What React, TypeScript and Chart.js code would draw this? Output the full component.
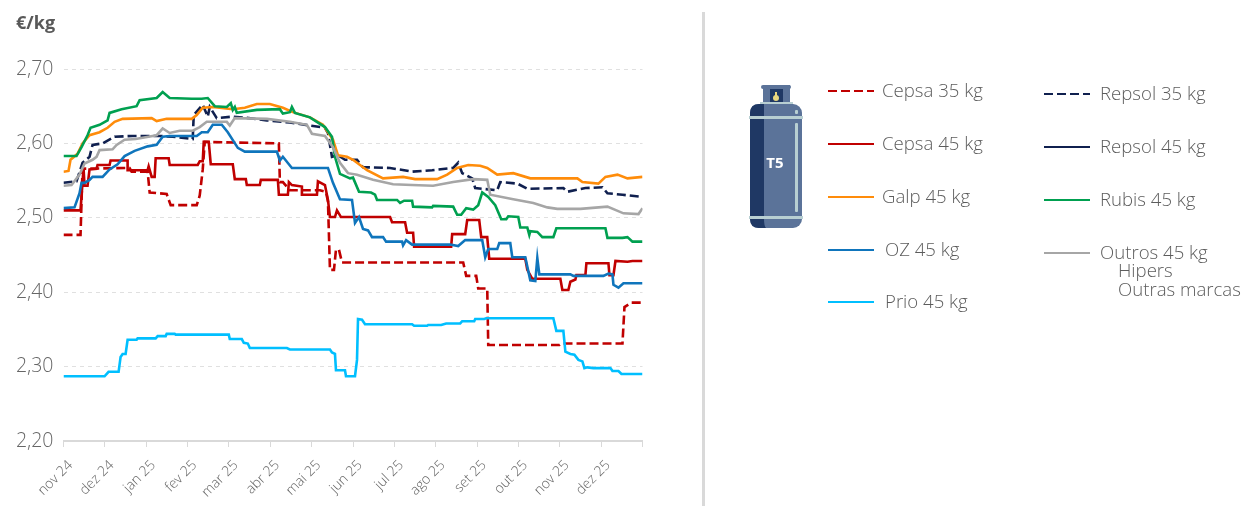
import React, { useEffect, useRef } from "react";
import { Chart, registerables } from "chart.js";

Chart.register(...registerables);

const FONT = '"Open Sans", "Noto Sans", sans-serif';

const monthLabels = ["nov 24", "dez 24", "jan 25", "fev 25", "mar 25", "abr 25", "mai 25", "jun 25", "jul 25", "ago 25", "set 25", "out 25", "nov 25", "dez 25", ""];
const yTicks = ["2,20", "2,30", "2,40", "2,50", "2,60", "2,70"];
const SAMPLES = 578; // sample positions along the time axis

type P = [number, number];

const cepsa35: P[] = [[0,2.477],[17,2.477],[19,2.566],[66,2.567],[68,2.562],[84,2.562],[86,2.534],[103,2.532],[107,2.517],[133,2.517],[136,2.53],[139,2.565],[141,2.602],[215,2.6],[216,2.548],[219,2.548],[226,2.537],[256,2.537],[262,2.535],[264,2.522],[266,2.43],[270,2.43],[272,2.457],[275,2.457],[278,2.44],[399,2.44],[402,2.422],[412,2.422],[414,2.405],[423,2.405],[424,2.329],[495,2.329],[497,2.331],[558,2.331],[560,2.38],[567,2.386],[578,2.386]];

const cepsa45: P[] = [[0,2.51],[17,2.51],[20,2.567],[21,2.543],[24,2.543],[26,2.565],[33,2.566],[34,2.571],[46,2.571],[47,2.577],[64,2.577],[64,2.564],[84,2.564],[85,2.569],[88,2.555],[91,2.555],[92,2.58],[105,2.58],[106,2.571],[134,2.571],[136,2.576],[139,2.576],[140,2.602],[145,2.602],[147,2.572],[169,2.572],[171,2.552],[182,2.552],[183,2.544],[196,2.544],[197,2.551],[214,2.551],[215,2.531],[224,2.531],[225,2.548],[228,2.544],[238,2.542],[238,2.531],[253,2.531],[254,2.549],[261,2.544],[264,2.524],[266,2.501],[271,2.501],[273,2.51],[277,2.501],[326,2.501],[328,2.494],[341,2.494],[343,2.48],[349,2.48],[350,2.461],[387,2.461],[388,2.478],[401,2.478],[403,2.497],[415,2.497],[417,2.474],[423,2.474],[425,2.445],[461,2.445],[463,2.43],[468,2.418],[496,2.418],[498,2.403],[504,2.403],[506,2.414],[511,2.417],[512,2.423],[521,2.423],[522,2.439],[544,2.439],[545,2.423],[549,2.423],[551,2.442],[563,2.441],[568,2.442],[578,2.442]];

const galp45: P[] = [[0,2.562],[5,2.563],[7,2.578],[14,2.586],[19,2.6],[26,2.611],[36,2.615],[44,2.621],[51,2.629],[59,2.633],[88,2.634],[93,2.63],[103,2.633],[128,2.633],[133,2.638],[139,2.648],[149,2.649],[169,2.646],[181,2.648],[193,2.653],[206,2.653],[219,2.648],[229,2.642],[246,2.635],[259,2.625],[269,2.605],[274,2.584],[283,2.582],[289,2.578],[303,2.564],[319,2.553],[339,2.555],[351,2.552],[373,2.552],[383,2.558],[393,2.567],[404,2.571],[416,2.57],[423,2.567],[433,2.558],[449,2.56],[466,2.553],[513,2.553],[518,2.548],[534,2.546],[541,2.555],[553,2.558],[563,2.553],[578,2.555]];

const repsol35: P[] = [[0,2.547],[13,2.549],[19,2.574],[26,2.582],[29,2.598],[39,2.6],[51,2.609],[69,2.61],[96,2.61],[109,2.609],[129,2.606],[130,2.638],[139,2.652],[144,2.636],[146,2.649],[153,2.634],[169,2.636],[185,2.634],[203,2.631],[226,2.628],[246,2.624],[261,2.621],[264,2.614],[268,2.582],[274,2.584],[281,2.578],[293,2.578],[299,2.568],[326,2.567],[348,2.562],[368,2.564],[389,2.567],[394,2.574],[398,2.56],[408,2.553],[411,2.54],[433,2.537],[436,2.548],[453,2.546],[463,2.539],[499,2.54],[503,2.535],[521,2.54],[538,2.541],[543,2.533],[558,2.531],[578,2.528]];

const rubis45: P[] = [[0,2.583],[13,2.583],[18,2.595],[24,2.611],[27,2.621],[36,2.625],[44,2.631],[46,2.641],[58,2.646],[73,2.65],[76,2.658],[93,2.661],[99,2.669],[106,2.661],[128,2.66],[138,2.66],[144,2.661],[151,2.65],[163,2.649],[167,2.654],[169,2.645],[171,2.649],[173,2.641],[193,2.645],[216,2.646],[219,2.64],[226,2.642],[228,2.649],[231,2.641],[246,2.635],[261,2.622],[268,2.609],[271,2.582],[276,2.559],[286,2.553],[289,2.554],[295,2.535],[307,2.534],[311,2.531],[313,2.524],[333,2.524],[336,2.52],[340,2.523],[348,2.523],[349,2.515],[368,2.514],[369,2.516],[389,2.515],[393,2.504],[397,2.504],[402,2.513],[409,2.511],[414,2.517],[418,2.534],[424,2.528],[431,2.517],[437,2.498],[442,2.498],[444,2.502],[454,2.501],[456,2.487],[463,2.487],[465,2.477],[466,2.482],[473,2.481],[478,2.474],[489,2.474],[492,2.486],[541,2.486],[543,2.473],[558,2.473],[563,2.474],[568,2.468],[578,2.468]];

const outros45: P[] = [[0,2.543],[8,2.544],[16,2.558],[21,2.573],[29,2.578],[33,2.582],[36,2.591],[49,2.592],[53,2.598],[61,2.605],[72,2.606],[93,2.611],[99,2.62],[106,2.614],[116,2.617],[129,2.617],[136,2.622],[143,2.629],[163,2.629],[166,2.624],[171,2.634],[203,2.633],[226,2.629],[243,2.625],[248,2.613],[261,2.61],[269,2.595],[276,2.574],[284,2.56],[293,2.558],[309,2.551],[329,2.545],[348,2.544],[369,2.543],[389,2.548],[409,2.552],[423,2.551],[426,2.531],[449,2.525],[469,2.52],[483,2.514],[493,2.512],[516,2.512],[543,2.515],[559,2.506],[574,2.505],[578,2.513]];

const oz45: P[] = [[0,2.513],[11,2.514],[16,2.533],[18,2.547],[21,2.547],[26,2.551],[29,2.555],[39,2.555],[46,2.565],[54,2.572],[61,2.583],[71,2.59],[84,2.596],[93,2.598],[99,2.609],[106,2.61],[133,2.61],[138,2.615],[144,2.615],[149,2.625],[158,2.625],[164,2.615],[174,2.594],[181,2.589],[213,2.589],[216,2.577],[219,2.582],[228,2.567],[264,2.567],[269,2.547],[276,2.525],[288,2.524],[291,2.493],[295,2.501],[299,2.485],[304,2.483],[308,2.474],[319,2.474],[322,2.468],[338,2.468],[339,2.463],[342,2.47],[348,2.464],[386,2.464],[394,2.462],[401,2.47],[418,2.47],[421,2.447],[424,2.458],[433,2.458],[435,2.466],[446,2.466],[448,2.447],[461,2.447],[466,2.416],[471,2.415],[473,2.446],[475,2.424],[506,2.424],[509,2.422],[539,2.422],[544,2.425],[548,2.424],[549,2.41],[554,2.406],[559,2.412],[578,2.412]];

const prio45: P[] = [[0,2.287],[41,2.287],[45,2.293],[55,2.293],[57,2.313],[59,2.317],[62,2.317],[64,2.336],[73,2.336],[74,2.338],[92,2.338],[94,2.341],[102,2.341],[103,2.344],[111,2.344],[112,2.343],[165,2.343],[166,2.337],[178,2.337],[180,2.332],[184,2.331],[186,2.325],[223,2.325],[226,2.323],[266,2.323],[268,2.319],[271,2.317],[272,2.295],[281,2.295],[282,2.287],[291,2.287],[293,2.309],[294,2.364],[298,2.363],[301,2.357],[348,2.357],[350,2.355],[363,2.355],[364,2.356],[377,2.356],[382,2.358],[396,2.358],[398,2.361],[410,2.361],[411,2.364],[420,2.364],[422,2.365],[489,2.365],[492,2.348],[499,2.348],[501,2.32],[506,2.317],[510,2.316],[514,2.309],[518,2.307],[520,2.298],[523,2.299],[529,2.298],[546,2.298],[548,2.294],[554,2.294],[557,2.29],[578,2.29]];

const seriesNames = ["Cepsa 35 kg", "Cepsa 45 kg", "Galp 45 kg", "OZ 45 kg", "Prio 45 kg", "Repsol 35 kg", "Repsol 45 kg", "Rubis 45 kg", "Outros 45 kg"];
const seriesColors = ["#C00000", "#C00000", "#FF8C0A", "#0F75BC", "#00BFFF", "#10204F", "#10204F", "#00A050", "#A6A6A6"];

const GREY = "#666666";

const legendLeft = [
  { i: 0, y: 91, tx: 882 },
  { i: 1, y: 144, tx: 882 },
  { i: 2, y: 197, tx: 882 },
  { i: 3, y: 250, tx: 885 },
  { i: 4, y: 302, tx: 885 },
];
const legendRight = [
  { i: 5, y: 94 },
  { i: 6, y: 147 },
  { i: 7, y: 200 },
  { i: 8, y: 253 },
];

function Overlay() {
  const label = { fontFamily: FONT, fontSize: 18.6, fontWeight: 300, fill: "#5C5C5C" } as const;
  return (
    <svg width={1244} height={506} style={{ position: "absolute", left: 0, top: 0 }}>
      <text x={16} y={29} fontFamily={FONT} fontSize={18} fontWeight={700} fill="#595959">€/kg</text>
      <rect x={702} y={12} width={3} height={494} fill="#D9D9D9" />

      {/* cylinder */}
      <rect x={763} y={85} width={27} height={18} fill="#5B7399" />
      <rect x={770} y={89} width={13} height={14} fill="#1F3864" />
      <rect x={761} y={85} width={30} height={4} rx={2} fill="#5B7399" />
      <circle cx={776} cy={98} r={3} fill="#E9D77E" />
      <rect x={775} y={92} width={2} height={6} fill="#E9D77E" />
      <rect x={760} y={102} width={33} height={2} fill="#B8CFD2" />
      <rect x={750} y={104} width={52} height={124} rx={9} fill="#5B7399" />
      <path d="M764 104 L759 104 Q750 104 750 113 L750 219 Q750 228 759 228 L766 228 Q764 226 764 219 Z" fill="#1F3864" />
      <rect x={749} y={116} width={54} height={3} fill="#B8CFD2" />
      <rect x={749} y={216} width={54} height={3} fill="#B8CFD2" />
      <rect x={795} y={123} width={3} height={89} rx={1} fill="#B8CFD2" />
      <rect x={795} y={110} width={3} height={4} rx={1} fill="#B8CFD2" />
      <text x={775} y={168} textAnchor="middle" fontFamily={FONT} fontSize={15} fontWeight={700} fill="#FFFFFF">T5</text>

      {legendLeft.map((e) => (
        <g key={e.i}>
          <line x1={828} x2={874} y1={e.y} y2={e.y} stroke={seriesColors[e.i]} strokeWidth={2.2} strokeDasharray={e.i === 0 ? "9 4" : undefined} />
          <text x={e.tx} y={e.y + 6} {...label}>{seriesNames[e.i]}</text>
        </g>
      ))}
      {legendRight.map((e) => (
        <g key={e.i}>
          <line x1={1044} x2={1090} y1={e.y} y2={e.y} stroke={seriesColors[e.i]} strokeWidth={2.2} strokeDasharray={e.i === 5 ? "9 4" : undefined} />
          <text x={1100} y={e.y + 6} {...label}>{seriesNames[e.i]}</text>
        </g>
      ))}
      <text x={1118} y={277} {...label}>Hipers</text>
      <text x={1118} y={296} {...label}>Outras marcas</text>
    </svg>
  );
}

export default function App() {
  const ref = useRef<HTMLCanvasElement | null>(null);

  useEffect(() => {
    const toXY = (p: P[]) => p.map(([x, y]) => ({ x, y }));
    const mk = (i: number, pts: P[], order: number, dashed = false) => ({
      label: seriesNames[i],
      data: toXY(pts),
      borderColor: seriesColors[i],
      backgroundColor: seriesColors[i],
      borderWidth: 2.6,
      borderDash: dashed ? [9, 4] : [],
      pointRadius: 0,
      tension: 0,
      order,
    });

    const chart = new Chart(ref.current as HTMLCanvasElement, {
      type: "line",
      data: {
        datasets: [
          mk(0, cepsa35, 8, true),
          mk(1, cepsa45, 7),
          mk(5, repsol35, 6, true),
          mk(2, galp45, 5),
          mk(7, rubis45, 4),
          mk(8, outros45, 3),
          mk(3, oz45, 2),
          mk(4, prio45, 1),
        ],
      },
      options: {
        animation: false,
        responsive: false,
        parsing: false as any,
        layout: { padding: { left: 0, right: 601.5, top: 69, bottom: 0 } },
        plugins: { legend: { display: false }, title: { display: false }, tooltip: { enabled: false } },
        scales: {
          x: {
            type: "linear",
            min: 0,
            max: SAMPLES,
            afterBuildTicks: (s: any) => {
              s.ticks = monthLabels.map((_, i) => ({ value: (i * SAMPLES) / 14 }));
            },
            afterFit: (s: any) => {
              s.height = 65;
            },
            grid: { drawOnChartArea: false, drawTicks: true, tickLength: 6, color: "#D9D9D9", lineWidth: 1 },
            border: { display: true, color: "#D9D9D9", width: 2 },
            ticks: {
              autoSkip: false,
              maxRotation: 45,
              minRotation: 45,
              padding: 10,
              labelOffset: 7,
              color: GREY,
              font: { family: FONT, size: 14, weight: "300" as any },
              callback: (_v: any, i: number) => monthLabels[i],
            },
          },
          y: {
            type: "linear",
            min: 2.2,
            max: 2.7,
            afterFit: (s: any) => {
              s.width = 63.5;
            },
            afterBuildTicks: (s: any) => {
              s.ticks = yTicks.map((t) => ({ value: parseFloat(t.replace(",", ".")) }));
            },
            grid: {
              drawTicks: false,
              color: (c: any) => (c.index === 0 ? "rgba(0,0,0,0)" : "#E0E0E0"),
              lineWidth: 1,
            },
            border: { display: false, dash: [4, 4] },
            ticks: {
              color: GREY,
              padding: 10,
              font: { family: FONT, size: 19.5, weight: "300" as any },
              callback: (_v: any, i: number) => yTicks[i],
            },
          },
        },
      },
    } as any);
    return () => chart.destroy();
  }, []);

  return (
    <div style={{ position: "absolute", left: 0, top: 0, width: 1244, height: 506, background: "#FFFFFF" }}>
      <canvas ref={ref} width={1244} height={506} style={{ position: "absolute", left: 0, top: 0, width: 1244, height: 506 }} />
      <Overlay />
    </div>
  );
}
